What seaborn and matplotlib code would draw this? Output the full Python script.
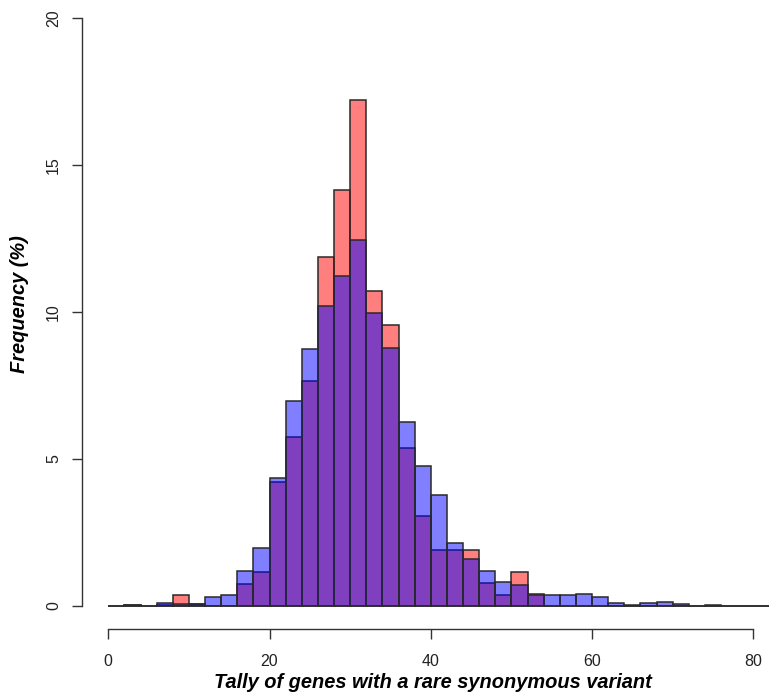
import numpy as np
import pandas as pd
import matplotlib
matplotlib.use("Agg")
import matplotlib.pyplot as plt
import seaborn as sns

# Bin edges: 0..82 in steps of 2
bin_edges = list(range(0, 84, 2))
bin_centers = [e + 1 for e in bin_edges[:-1]]

red_pct = [0, 0.03, 0, 0.03, 0.37, 0.05, 0, 0, 0.73, 1.14,
           4.2, 5.75, 7.65, 11.85, 14.16, 17.2, 10.71, 9.56, 5.36, 3.05,
           1.89, 1.89, 1.89, 0.76, 0.37, 1.14, 0.4, 0, 0, 0,
           0, 0, 0, 0, 0, 0, 0, 0, 0, 0, 0]
blue_pct = [0, 0.03, 0, 0.08, 0.05, 0.05, 0.3, 0.37, 1.17, 1.97,
            4.33, 6.97, 8.73, 10.2, 11.2, 12.44, 9.95, 8.76, 6.23, 4.75,
            3.75, 2.12, 1.6, 1.19, 0.81, 0.7, 0.37, 0.36, 0.36, 0.38,
            0.28, 0.08, 0.03, 0.08, 0.13, 0.04, 0, 0.03, 0, 0, 0]

x_ticks = [0, 20, 40, 60, 80]
y_ticks = [0, 5, 10, 15, 20]
x_label = "Tally of genes with a rare synonymous variant"
y_label = "Frequency (%)"

sns.set_style("white")
plt.rcParams['font.family'] = ['Liberation Sans', 'DejaVu Sans']

W, H = 778, 698
fig = plt.figure(figsize=(W / 100, H / 100), dpi=100)
left_px, bottom_px = 82, 629
ax = fig.add_axes([left_px / W, (H - bottom_px) / H, 1 - left_px / W, bottom_px / H])

df = pd.DataFrame({"x": bin_centers, "red": red_pct, "blue": blue_pct})
edge = "#2a2a2a"
sns.histplot(data=df, x="x", weights="red", bins=bin_edges, stat="count",
             color=(1, 0, 0), alpha=0.5, edgecolor=edge, linewidth=1.1, ax=ax)
sns.histplot(data=df, x="x", weights="blue", bins=bin_edges, stat="count",
             color=(0, 0, 1), alpha=0.5, edgecolor=edge, linewidth=1.1, ax=ax)
for p in ax.patches[:len(bin_centers)]:
    p.set_facecolor((1, 0, 0, 0.5)); p.set_edgecolor(edge); p.set_alpha(None)
for p in ax.patches[len(bin_centers):]:
    p.set_facecolor((0, 0, 1, 0.5)); p.set_edgecolor(edge); p.set_alpha(None)

px_per_x = (753.3 - 108.3) / 80
px_per_y = (605.5 - 18) / 20
ax.set_xlim((left_px - 108.3) / px_per_x, (W - 108.3) / px_per_x)
ax.set_ylim(-(bottom_px - 605.5) / px_per_y, 20 + 18 / px_per_y)

for s in ["top", "right"]:
    ax.spines[s].set_visible(False)
ax.spines["left"].set_bounds(0, 20)
ax.spines["bottom"].set_bounds(0, 80)
for s in ["left", "bottom"]:
    ax.spines[s].set_color("#333333")
    ax.spines[s].set_linewidth(1.0)

ax.set_xticks(x_ticks)
ax.set_yticks(y_ticks)
ax.set_xticklabels([str(v) for v in x_ticks], fontsize=11.5, color="#222222")
ax.set_yticklabels([str(v) for v in y_ticks], fontsize=11.5, color="#222222",
                   rotation=90, va="center")
ax.tick_params(axis="both", direction="out", length=7.2, width=1.0,
               color="#333333", left=True, bottom=True)
ax.tick_params(axis="x", pad=10.5)
ax.tick_params(axis="y", pad=8)

ax.set_xlabel("")
ax.set_ylabel("")
fig.text(433 / W, 1 - 683 / H, x_label, fontsize=14.4, fontweight="bold",
         fontstyle="italic", ha="center", va="center", color="black")
fig.text(20 / W, 1 - 304 / H, y_label, fontsize=14.4, fontweight="bold",
         fontstyle="italic", ha="center", va="center", rotation=90, color="black")

fig.savefig("out.png", dpi=100)
